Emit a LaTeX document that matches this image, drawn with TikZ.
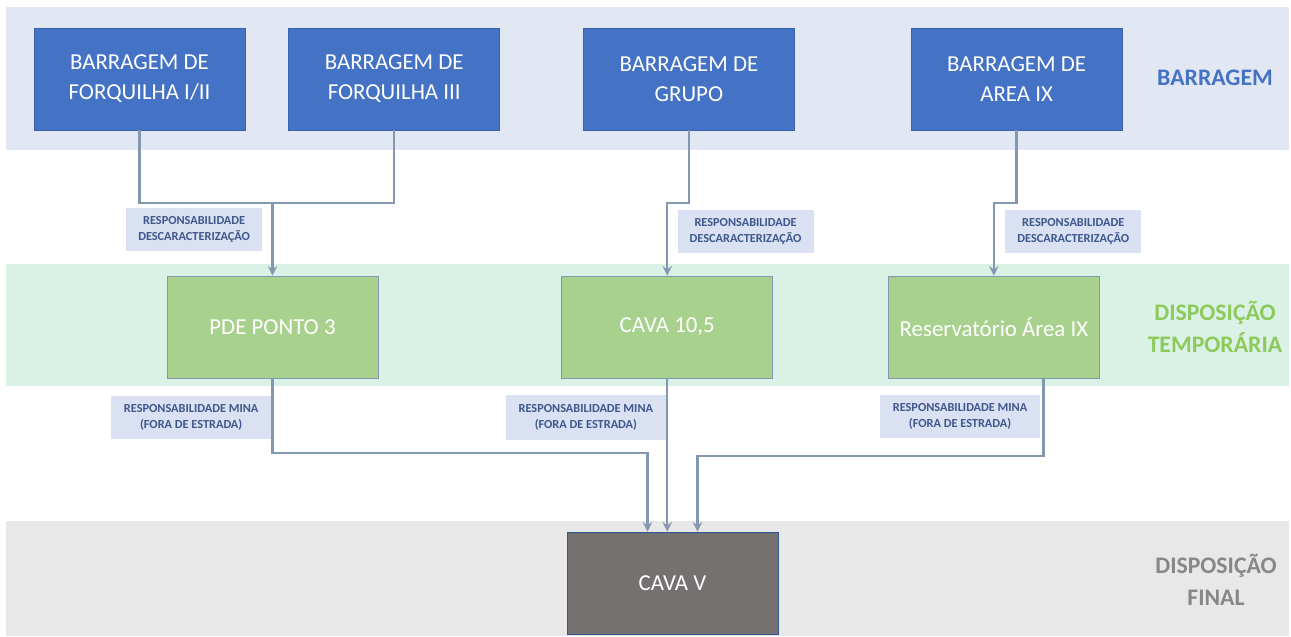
\documentclass[tikz,border=0pt]{standalone}
\usepackage{fontspec}
\setmainfont{Carlito}
\usetikzlibrary{positioning,arrows}
\definecolor{topband}{RGB}{225,231,243}
\definecolor{tempband}{RGB}{218,242,230}
\definecolor{finalband}{RGB}{232,232,232}
\definecolor{barblue}{RGB}{68,114,196}
\definecolor{barline}{RGB}{58,98,174}
\definecolor{tempgreen}{RGB}{169,209,142}
\definecolor{templine}{RGB}{132,151,176}
\definecolor{finalgray}{RGB}{118,113,113}
\definecolor{finalline}{RGB}{47,85,151}
\definecolor{respfill}{RGB}{217,225,242}
\definecolor{resptext}{RGB}{63,87,140}
\definecolor{conncol}{RGB}{132,151,176}
\definecolor{tiergreen}{RGB}{141,201,91}
\definecolor{tiergray}{RGB}{135,135,135}
\tikzstyle{barragem} = [rectangle, minimum width=4.22cm, minimum height=2.04cm, draw=barline, fill=barblue, text=white, align=center, font=\fontsize{13}{17}\selectfont]
\tikzstyle{temp} = [barragem, draw=templine, fill=tempgreen]
\tikzstyle{final} = [barragem, draw=finalline, fill=finalgray]
\tikzstyle{resp} = [rectangle, minimum width=2.72cm, minimum height=0.86cm, inner sep=1pt, fill=respfill, text=resptext, align=center, font=\fontsize{7}{9}\selectfont\bfseries]
\tikzstyle{mina} = [resp, minimum width=3.2cm]
\tikzstyle{tier} = [align=center, font=\fontsize{13.5}{18}\selectfont\bfseries]
\tikzstyle{conn} = [conncol, line width=1.4pt]
\tikzstyle{arrow} = [conn, ->, >=stealth]

\begin{document}
\begin{tikzpicture}
\useasboundingbox (0,0) rectangle (25.82,-12.72);
% bands
\fill[topband] (0.12,-0.14) rectangle (25.78,-3.0);
\fill[tempband] (0.12,-5.28) rectangle (25.78,-7.72);
\fill[finalband] (0.12,-10.42) rectangle (25.78,-12.72);

\node (forq12) [barragem] at (2.79,-1.58) {BARRAGEM DE\\FORQUILHA I/II};
\node (forq3) [barragem, right=0.86cm of forq12] {BARRAGEM DE\\FORQUILHA III};
\node (grupo) [barragem, right=1.66cm of forq3] {BARRAGEM DE\\GRUPO};
\node (area9) [barragem, right=2.32cm of grupo] {BARRAGEM DE\\AREA IX};

\node (pde) [temp] at (5.45,-6.54) {PDE PONTO 3};
\node (cava105) [temp, right=3.66cm of pde] {CAVA 10,5};
\node (reserv) [temp, right=2.3cm of cava105] {Reservatório Área IX};

\node (cavav) [final] at (13.45,-11.66) {CAVA V};

\node (tbar) [tier, text=barblue] at (24.3,-1.56) {BARRAGEM};
\node (ttemp) [tier, text=tiergreen] at (24.3,-6.54) {DISPOSIÇÃO\\TEMPORÁRIA};
\node (tfinal) [tier, text=tiergray] at (24.32,-11.6) {DISPOSIÇÃO\\FINAL};

% connectors
\coordinate (mid1) at (0,-4.06);
\coordinate (lo1) at (0,-9.06);
\coordinate (lo2) at (0,-9.12);
\coordinate (in1) at ([xshift=-0.5cm]cavav.north);
\coordinate (in3) at ([xshift=0.5cm]cavav.north);
\coordinate (out3) at ([xshift=0.99cm]reserv.south);

\draw[conn] (forq12.south) |- (forq3.south |- mid1) -- (forq3.south);
\draw[arrow] (pde.north |- mid1) -- (pde.north);
\draw[arrow] (grupo.south) |- (cava105.north |- mid1) -- (cava105.north);
\draw[arrow] (area9.south) |- (reserv.north |- mid1) -- (reserv.north);

\draw[arrow] (pde.south) |- (in1 |- lo1) -- (in1);
\draw[arrow] (cava105.south) -- (cava105.south |- cavav.north);
\draw[arrow] (out3) |- (in3 |- lo2) -- (in3);

\node (resp1) [resp, anchor=north east] at ([xshift=-0.2cm, yshift=-0.1cm]pde.north |- mid1) {RESPONSABILIDADE\\DESCARACTERIZAÇÃO};
\node (resp2) [resp, anchor=north west] at ([xshift=0.2cm, yshift=-0.14cm]cava105.north |- mid1) {RESPONSABILIDADE\\DESCARACTERIZAÇÃO};
\node (resp3) [resp, anchor=north west] at ([xshift=0.22cm, yshift=-0.14cm]reserv.north |- mid1) {RESPONSABILIDADE\\DESCARACTERIZAÇÃO};

\node (mina1) [mina, anchor=north east] at ([xshift=-0.02cm, yshift=-0.34cm]pde.south) {RESPONSABILIDADE MINA\\(FORA DE ESTRADA)};
\node (mina2) [mina, anchor=north east, minimum height=0.9cm] at ([xshift=-0.02cm, yshift=-0.32cm]cava105.south) {RESPONSABILIDADE MINA\\(FORA DE ESTRADA)};
\node (mina3) [mina, anchor=north east] at ([xshift=-0.06cm, yshift=-0.32cm]out3) {RESPONSABILIDADE MINA\\(FORA DE ESTRADA)};
\end{tikzpicture}
\end{document}
